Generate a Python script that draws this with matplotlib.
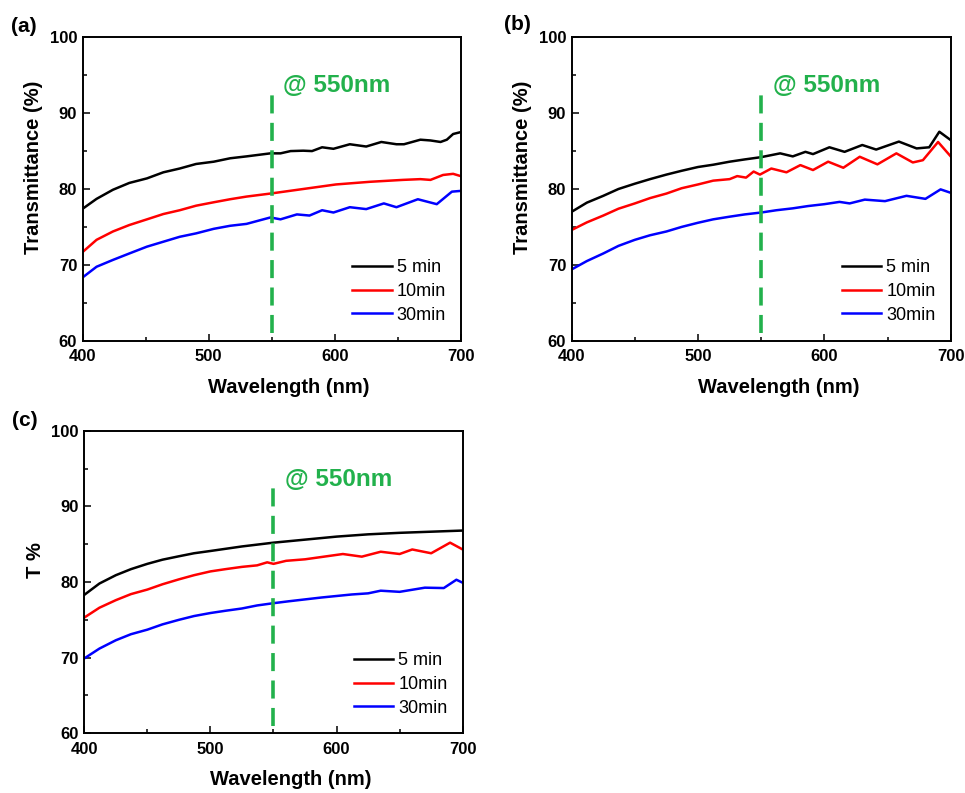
import matplotlib
matplotlib.use("Agg")
import matplotlib.pyplot as plt
from matplotlib.ticker import MultipleLocator

plt.rcParams['font.family'] = ['Liberation Sans', 'DejaVu Sans']

# ---------------- data ----------------
series_labels = ["5 min", "10min", "30min"]
series_colors = ["black", "#ff0000", "#0000ff"]

# panel (a)
a_5_wl = [400, 411, 424, 437, 451, 464, 477, 490, 504, 517, 530, 549, 557, 565, 575, 582,
          590, 599, 612, 625, 637, 649, 655, 668, 676, 684, 689, 694, 700]
a_5_T = [77.4, 78.7, 79.9, 80.8, 81.4, 82.2, 82.7, 83.3, 83.6, 84.05, 84.3, 84.7, 84.7, 85.0,
         85.05, 85.0, 85.5, 85.3, 85.9, 85.6, 86.2, 85.9, 85.9, 86.5, 86.4, 86.2, 86.5, 87.25, 87.5]
a_10_wl = [400, 411, 424, 437, 451, 464, 477, 490, 504, 517, 530, 549, 575, 601, 628, 654,
           668, 676, 686, 694, 700]
a_10_T = [71.7, 73.3, 74.4, 75.25, 76.0, 76.7, 77.2, 77.8, 78.25, 78.65, 79.0, 79.4, 80.0,
          80.6, 80.95, 81.2, 81.3, 81.2, 81.85, 82.0, 81.7]
a_30_wl = [400, 411, 424, 437, 451, 464, 477, 490, 504, 517, 530, 549, 557, 570, 580, 590,
           599, 612, 625, 639, 649, 666, 681, 693, 700]
a_30_T = [68.35, 69.75, 70.65, 71.5, 72.4, 73.05, 73.7, 74.15, 74.75, 75.15, 75.4, 76.25,
          76.0, 76.65, 76.5, 77.2, 76.9, 77.6, 77.35, 78.1, 77.6, 78.65, 78.0, 79.65, 79.75]

# panel (b)
b_5_wl = [400, 412, 425, 437, 450, 462, 475, 487, 500, 512, 525, 537, 550, 565, 575, 585,
          591, 604, 616, 630, 641, 659, 673, 683, 691, 700]
b_5_T = [77.0, 78.2, 79.1, 80.0, 80.7, 81.3, 81.9, 82.4, 82.9, 83.2, 83.6, 83.9, 84.2, 84.7,
         84.3, 84.9, 84.6, 85.5, 84.9, 85.8, 85.2, 86.25, 85.35, 85.5, 87.55, 86.45]
b_10_wl = [400, 412, 425, 437, 450, 462, 475, 487, 500, 512, 525, 531, 538, 544, 549, 558,
           570, 581, 591, 603, 615, 628, 642, 657, 670, 678, 690, 700]
b_10_T = [74.6, 75.6, 76.5, 77.4, 78.1, 78.8, 79.4, 80.1, 80.6, 81.1, 81.3, 81.7, 81.5, 82.3,
          81.9, 82.7, 82.2, 83.15, 82.5, 83.6, 82.8, 84.25, 83.25, 84.7, 83.5, 83.8, 86.2, 84.3]
b_30_wl = [400, 412, 425, 437, 450, 462, 475, 487, 500, 512, 525, 537, 550, 562, 575, 587,
           600, 612, 620, 632, 648, 665, 680, 692, 700]
b_30_T = [69.4, 70.5, 71.5, 72.5, 73.3, 73.9, 74.4, 75.0, 75.55, 76.0, 76.35, 76.65, 76.9,
          77.2, 77.45, 77.75, 78.0, 78.3, 78.1, 78.6, 78.4, 79.1, 78.7, 79.95, 79.5]

# panel (c)
c_5_wl = [400, 412, 425, 437, 450, 462, 475, 487, 500, 525, 550, 575, 600, 625, 650, 675, 700]
c_5_T = [78.3, 79.8, 80.9, 81.7, 82.4, 82.95, 83.4, 83.8, 84.1, 84.7, 85.2, 85.6, 86.0,
         86.3, 86.5, 86.65, 86.8]
c_10_wl = [400, 412, 425, 437, 450, 462, 475, 487, 500, 512, 525, 537, 545, 550, 560, 575,
           590, 605, 620, 635, 650, 660, 675, 690, 700]
c_10_T = [75.3, 76.6, 77.6, 78.4, 79.0, 79.7, 80.35, 80.9, 81.4, 81.7, 82.0, 82.2, 82.6,
          82.4, 82.8, 83.0, 83.35, 83.7, 83.35, 84.0, 83.7, 84.3, 83.8, 85.2, 84.3]
c_30_wl = [400, 412, 425, 437, 450, 462, 475, 487, 500, 512, 525, 537, 550, 562, 575, 588,
           600, 612, 625, 635, 650, 670, 685, 695, 700]
c_30_T = [69.9, 71.2, 72.3, 73.1, 73.7, 74.4, 75.0, 75.5, 75.9, 76.2, 76.5, 76.9, 77.2,
          77.45, 77.7, 77.95, 78.15, 78.35, 78.5, 78.85, 78.7, 79.25, 79.2, 80.3, 79.9]

panel_tags = ["(a)", "(b)", "(c)"]
y_labels = ["Transmittance (%)", "Transmittance (%)", "T %"]
x_label = "Wavelength (nm)"
mark_wl = 550
mark_text = "@ 550nm"
mark_range = (61.0, 92.5)
x_lim = (400, 700)
y_lim = (60, 100)

panels = [
    [(a_5_wl, a_5_T), (a_10_wl, a_10_T), (a_30_wl, a_30_T)],
    [(b_5_wl, b_5_T), (b_10_wl, b_10_T), (b_30_wl, b_30_T)],
    [(c_5_wl, c_5_T), (c_10_wl, c_10_T), (c_30_wl, c_30_T)],
]

# ---------------- layout ----------------
W, H = 965, 793
fig = plt.figure(figsize=(W / 100, H / 100), dpi=100)
# axes boxes in pixels: left, top, right, bottom
boxes = [(82.7, 37.3, 460.7, 340.7), (571.7, 37.3, 950.7, 340.7), (84.3, 430.7, 462.7, 733.3)]
tag_pos = [(11, 27), (504, 25), (12, 421)]
green = "#22b14c"

for i, (box, data) in enumerate(zip(boxes, panels)):
    l, t, r, b = box
    ax = fig.add_axes([l / W, 1 - b / H, (r - l) / W, (b - t) / H])
    for (wl, T), lab, col in zip(data, series_labels, series_colors):
        ax.plot(wl, T, color=col, lw=1.8, label=lab)
    ax.plot([mark_wl, mark_wl], list(mark_range), color=green, lw=2.6,
            dashes=(5, 2.6))
    ax.text(mark_wl + 9, 93.6, mark_text, color=green, fontsize=17.5,
            fontweight='bold', ha='left', va='center')
    ax.set_xlim(*x_lim)
    ax.set_ylim(*y_lim)
    ax.xaxis.set_major_locator(MultipleLocator(100))
    ax.xaxis.set_minor_locator(MultipleLocator(50))
    ax.yaxis.set_major_locator(MultipleLocator(10))
    ax.yaxis.set_minor_locator(MultipleLocator(5))
    ax.tick_params(which='both', direction='in', top=False, right=False, width=1.1)
    ax.tick_params(which='major', length=5, labelsize=12)
    ax.tick_params(axis='x', which='major', pad=6)
    ax.tick_params(axis='y', which='major', pad=4)
    ax.tick_params(which='minor', length=3)
    for lbl in ax.get_xticklabels() + ax.get_yticklabels():
        lbl.set_fontweight('bold')
    for sp in ax.spines.values():
        sp.set_linewidth(1.4)
    ax.set_xlabel(x_label, fontsize=14.5, fontweight='bold')
    ax.set_ylabel(y_labels[i], fontsize=14.5, fontweight='bold')
    ax.xaxis.set_label_coords(0.545, -0.122)
    ax.yaxis.set_label_coords(-0.105, 0.573)
    ax.legend(loc='upper left', bbox_to_anchor=(0.712, 0.268), frameon=False,
              fontsize=13, handlelength=2.2, handletextpad=0.28, labelspacing=0.37,
              borderpad=0, borderaxespad=0)
    fig.text(tag_pos[i][0] / W, 1 - tag_pos[i][1] / H, panel_tags[i], fontsize=15,
             fontweight='bold', ha='left', va='center')

fig.savefig("out.png", dpi=100)
